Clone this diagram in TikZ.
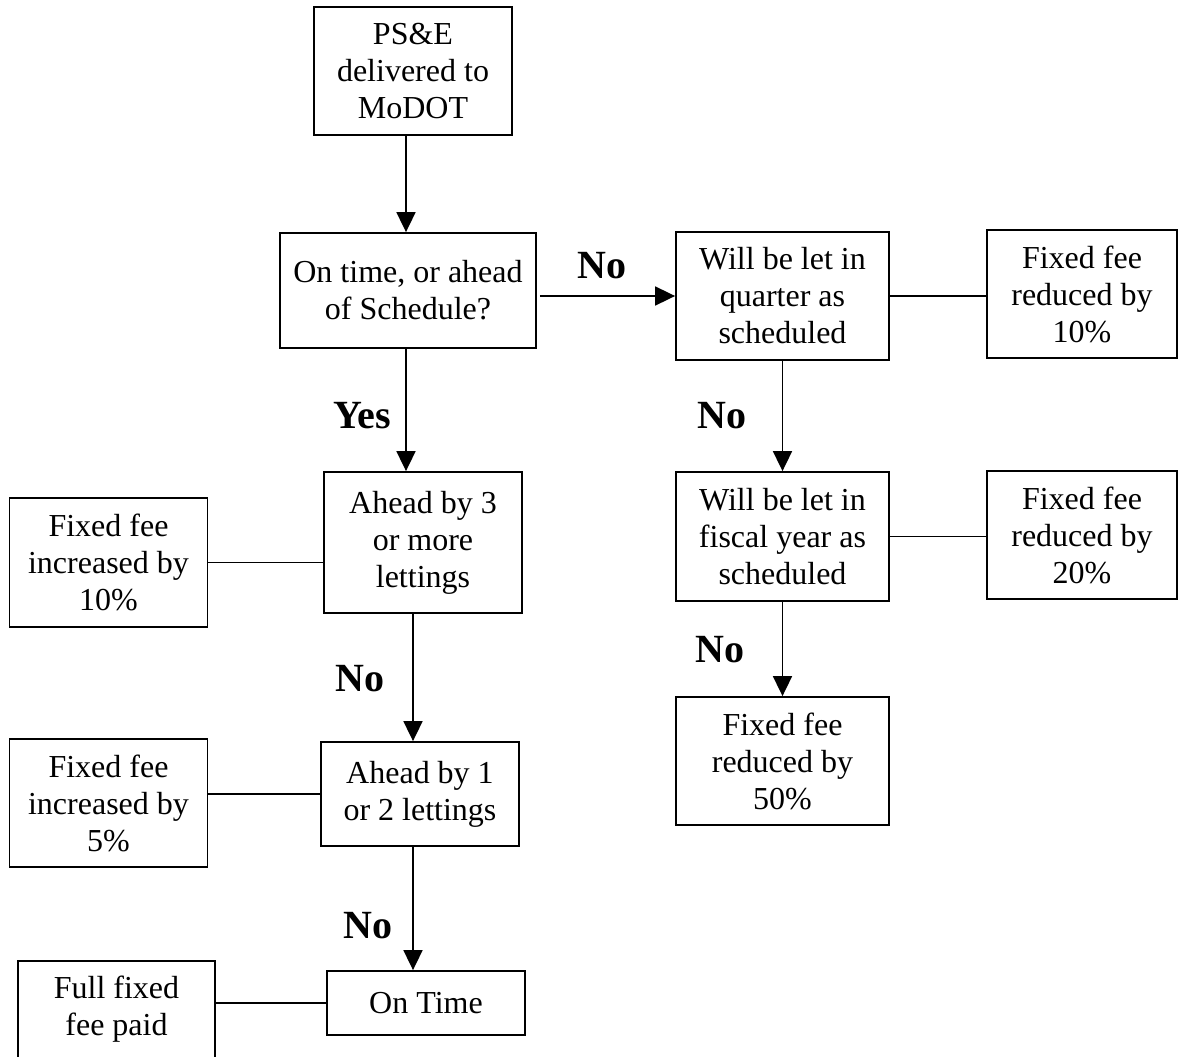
\documentclass[tikz,border=0pt]{standalone}
\usepackage{fontspec}
\setmainfont{Liberation Serif}
\usetikzlibrary{arrows.meta}
\begin{document}
\begin{tikzpicture}[x=1pt,y=-1pt,
  box/.style={draw, line width=1.8pt, inner sep=0pt, align=center,
    font=\fontsize{32}{37}\selectfont},
  txt/.style={inner sep=0pt, align=center, font=\fontsize{32}{37}\selectfont},
  lab/.style={inner sep=0pt, font=\fontsize{40}{44}\selectfont\bfseries},
  conn/.style={line width=1.8pt},
  arr/.style={line width=1.8pt, -{Triangle[length=20pt,width=19pt]}}]
\useasboundingbox (0,0) rectangle (1179,1057);
\node[box, minimum width=198pt, minimum height=128pt] (ps) at (413,71) {PS\&E\\delivered to\\MoDOT};
\node[box, minimum width=256pt, minimum height=115pt] (ot) at (408,290.5) {On time, or ahead\\of Schedule?};
\node[box, minimum width=213pt, minimum height=128pt] (q) at (782.5,296) {Will be let in\\quarter as\\scheduled};
\node[box, minimum width=190pt, minimum height=128pt] (r10) at (1082,294) {Fixed fee\\reduced by\\10\%};
\node[box, minimum width=198pt, minimum height=141pt] (a3) at (423,542.5) {Ahead by 3\\or more\\lettings};
\node[box, minimum width=198pt, minimum height=129pt] (i10) at (108.5,562.5) {Fixed fee\\increased by\\10\%};
\node[box, minimum width=213pt, minimum height=129pt] (fi) at (782.5,536.5) {Will be let in\\fiscal year as\\scheduled};
\node[box, minimum width=190pt, minimum height=128pt] (r20) at (1082,535) {Fixed fee\\reduced by\\20\%};
\node[box, minimum width=198pt, minimum height=104pt] (a1) at (420,794) {Ahead by 1\\or 2 lettings};
\node[box, minimum width=198pt, minimum height=128pt] (i5) at (108.5,803) {Fixed fee\\increased by\\5\%};
\node[box, minimum width=213pt, minimum height=128pt] (r50) at (782.5,761) {Fixed fee\\reduced by\\50\%};
\node[box, minimum width=198pt, minimum height=64pt] (ont) at (426,1003) {On Time};
\node[box, minimum width=197pt, minimum height=119pt] (ff) at (116.5,1020.5) {};
\node[txt] (fft) at (116.5,1009) {Full fixed\\fee paid};
% arrows
\draw[arr] ([xshift=-7pt]ps.south) -- ([xshift=-2pt]ot.north);
\draw[arr] ([xshift=3pt]ot.east |- q.west) -- (q.west);
\draw[arr] ([xshift=-2pt]ot.south) -- ([xshift=-17pt]a3.north);
\draw[arr] ([xshift=-10pt]a3.south) -- ([xshift=-7pt]a1.north);
\draw[arr] ([xshift=-7pt]a1.south) -- ([xshift=-13pt]ont.north);
\draw[arr] (q.south) -- (fi.north);
\draw[arr] (fi.south) -- (r50.north);
% plain connectors
\draw[conn] (q.east) -- (q.east -| r10.west);
\draw[conn] (fi.east) -- (fi.east -| r20.west);
\draw[conn] (i10.east) -- (i10.east -| a3.west);
\draw[conn] (a1.west) -- (a1.west -| i5.east);
\draw[conn] (ont.west) -- (ont.west -| ff.east);
% labels
\node[lab] (l1) at (602,266) {No};
\node[lab] (l2) at (362,416) {Yes};
\node[lab] (l3) at (722,416) {No};
\node[lab] (l4) at (360,679) {No};
\node[lab] (l5) at (368,926) {No};
\node[lab] (l6) at (720,650) {No};
\end{tikzpicture}
\end{document}
